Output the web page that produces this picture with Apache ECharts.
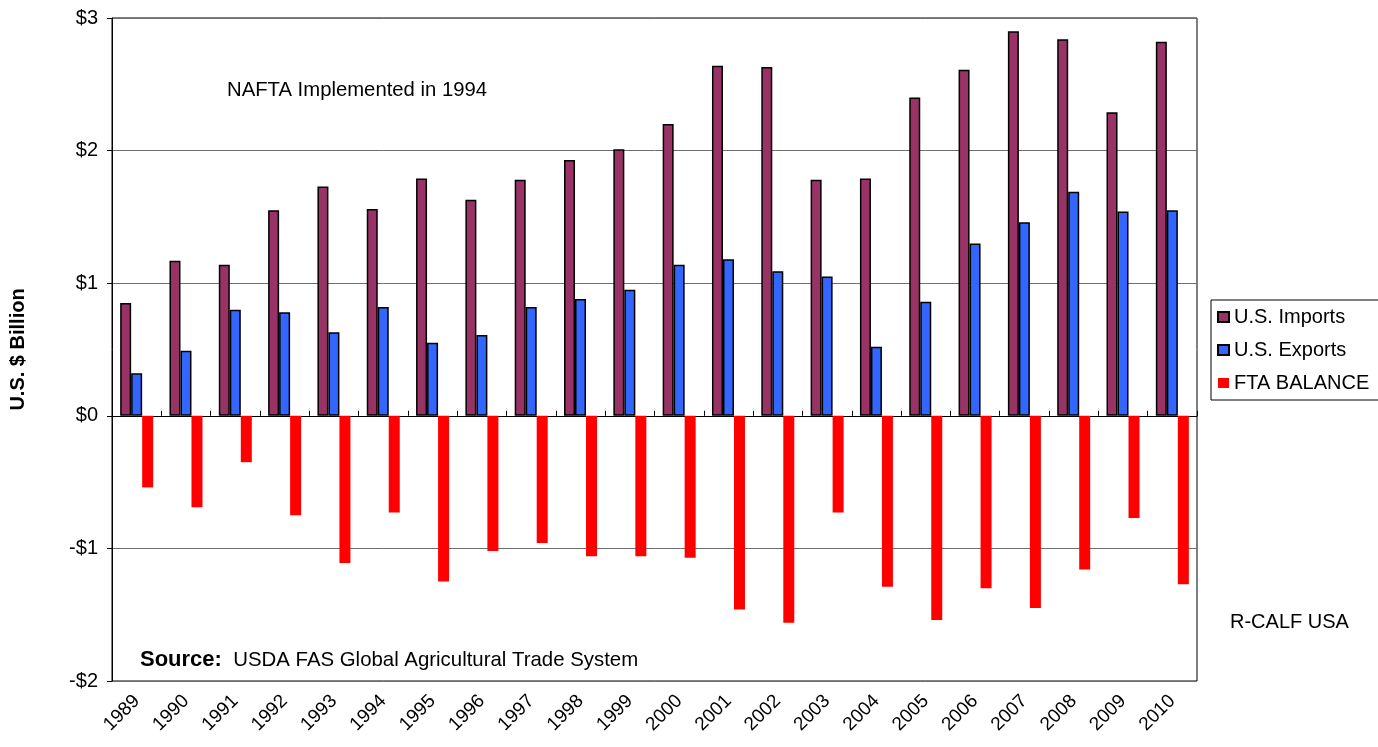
<!DOCTYPE html>
<html>
<head>
<meta charset="utf-8">
<script src="https://cdn.jsdelivr.net/npm/echarts@6/dist/echarts.min.js"></script>
<style>html,body{margin:0;padding:0;background:#fff}#c{width:1378px;height:747px}</style>
</head>
<body>
<div id="c"></div>
<script>
const years = ['1989','1990','1991','1992','1993','1994','1995','1996','1997','1998','1999','2000','2001','2002','2003','2004','2005','2006','2007','2008','2009','2010'];
const imports = [0.85,1.17,1.14,1.55,1.73,1.56,1.79,1.63,1.78,1.93,2.01,2.20,2.64,2.63,1.78,1.79,2.40,2.61,2.90,2.84,2.29,2.82];
const exportsV = [0.32,0.49,0.80,0.78,0.63,0.82,0.55,0.61,0.82,0.88,0.95,1.14,1.18,1.09,1.05,0.52,0.86,1.30,1.46,1.69,1.54,1.55];
const balance = [-0.54,-0.69,-0.35,-0.75,-1.11,-0.73,-1.25,-1.02,-0.96,-1.06,-1.06,-1.07,-1.46,-1.56,-0.73,-1.29,-1.54,-1.30,-1.45,-1.16,-0.77,-1.27];
const yTicks = {min:-2, max:3, interval:1};

const FONT = 'Liberation Sans, Arial, sans-serif';
const chart = echarts.init(document.getElementById('c'));
chart.setOption({
  animation:false,
  textStyle:{fontFamily:FONT},
  grid:{left:112,right:181,top:18,bottom:66,show:true,borderColor:'#000',borderWidth:1,backgroundColor:'transparent'},
  legend:{
    orient:'vertical', left:1211, top:300,
    padding:[6,60,6,6], itemGap:11, itemWidth:11, itemHeight:10,
    borderColor:'#000', borderWidth:1,
    textStyle:{fontSize:20, color:'#000', fontFamily:FONT, lineHeight:22},
    data:[{name:'U.S. Imports',icon:'rect'},{name:'U.S. Exports',icon:'rect'},{name:'FTA BALANCE',icon:'rect'}]
  },
  xAxis:[
    {type:'category', data:years, boundaryGap:true,
     axisLine:{onZero:true, lineStyle:{color:'#000',width:1}},
     axisTick:{show:true, inside:true, length:5, lineStyle:{color:'#000'}},
     axisLabel:{show:false}, splitLine:{show:false}},
    {type:'category', data:years, position:'bottom', boundaryGap:true,
     axisLine:{show:false, onZero:false}, axisTick:{show:false},
     axisLabel:{rotate:45, margin:17, fontSize:19, color:'#000', fontFamily:FONT}}
  ],
  yAxis:{
    type:'value', min:yTicks.min, max:yTicks.max, interval:yTicks.interval,
    name:'U.S. $ Billion', nameLocation:'middle', nameRotate:90, nameGap:84,
    nameTextStyle:{fontSize:20, fontWeight:'bold', color:'#000', fontFamily:FONT},
    axisLine:{show:true, lineStyle:{color:'#000'}},
    axisTick:{show:true, length:5, lineStyle:{color:'#000'}},
    axisLabel:{margin:14, fontSize:20, color:'#000', fontFamily:FONT,
      formatter:v=> v<0 ? '-$'+Math.abs(v) : '$'+v},
    splitLine:{show:true, lineStyle:{color:'#6e6e6e', width:1}}
  },
  series:[
    {name:'U.S. Imports', type:'bar', data:imports, barWidth:11, barGap:'0%',
     itemStyle:{color:'#993366', borderColor:'#000', borderWidth:1.5}},
    {name:'U.S. Exports', type:'bar', data:exportsV, barWidth:11, barGap:'0%',
     itemStyle:{color:'#3366FF', borderColor:'#000', borderWidth:1.5}},
    {name:'FTA BALANCE', type:'bar', data:balance, barWidth:11, barGap:'0%',
     itemStyle:{color:'#FF0000'}}
  ],
  graphic:[
    {type:'text', left:227, top:80, style:{text:'NAFTA Implemented in 1994', fontSize:20.3, fill:'#000', fontFamily:FONT}},
    {type:'text', left:140, top:649, style:{text:'{b|Source:}  USDA FAS Global Agricultural Trade System', fontSize:20.4, fill:'#000', fontFamily:FONT,
      rich:{b:{fontWeight:'bold', fontSize:22, fontFamily:FONT}}}},
    {type:'text', left:1230, top:612, style:{text:'R-CALF USA', fontSize:20, fill:'#000', fontFamily:FONT}}
  ]
});
</script>
</body>
</html>
